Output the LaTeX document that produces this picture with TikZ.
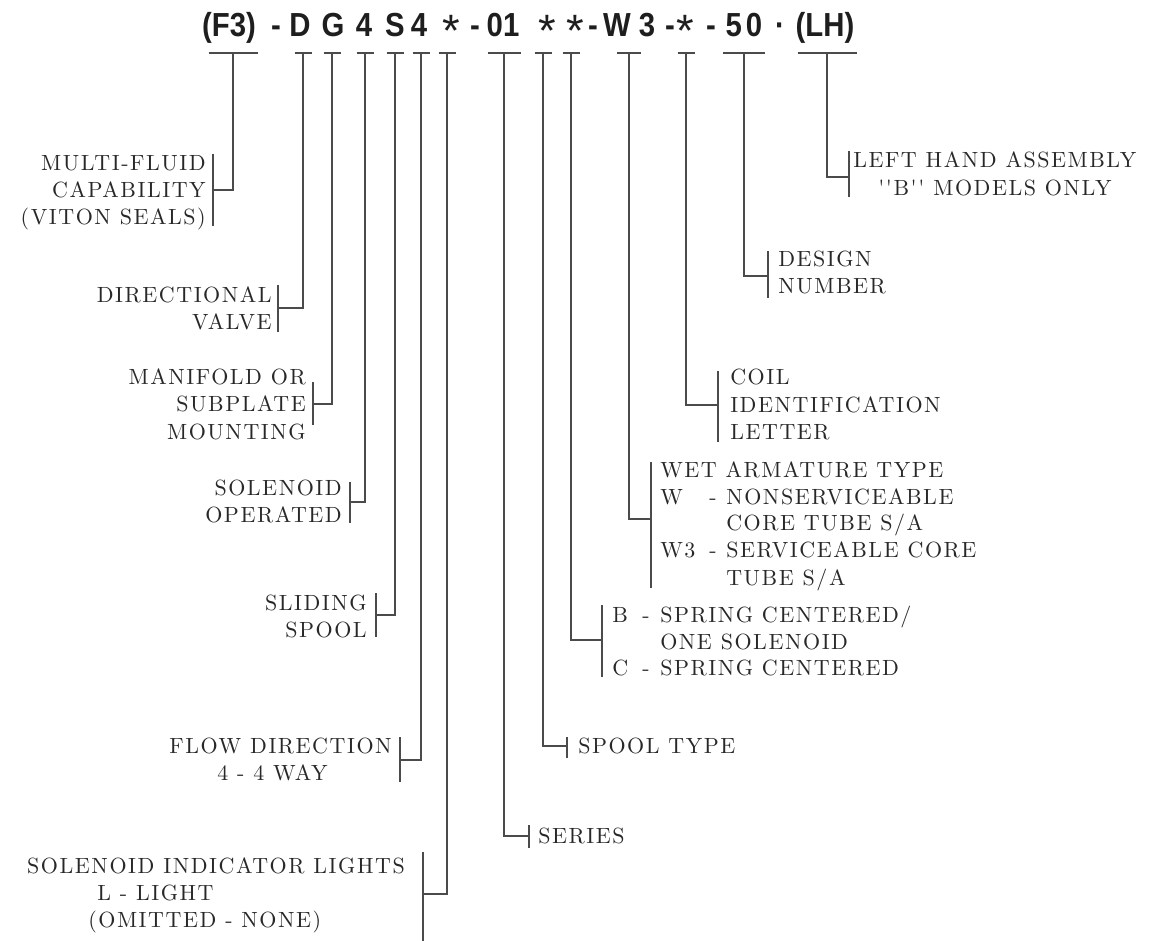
\documentclass[tikz,border=0pt]{standalone}
\usepackage{fontspec}
\newfontfamily\titlefont{Liberation Sans}[FakeStretch=0.88]
\newfontfamily\astfont{Liberation Sans}
\newfontfamily\lblfont{lmroman10-regular.otf}[LetterSpace=7]
\definecolor{ink}{RGB}{40,40,40}
\definecolor{titleink}{RGB}{30,30,30}
\definecolor{wirec}{RGB}{75,75,75}
\tikzset{
  lbl/.style={inner sep=0pt, text=ink, font=\lblfont\fontsize{16.5}{20}\selectfont},
  lw/.style={lbl, anchor=base west},
  le/.style={lbl, anchor=base east},
  code/.style={inner sep=0pt, text=titleink, anchor=base, font=\titlefont\bfseries\fontsize{25}{30}\selectfont},
  ast/.style={inner sep=0pt, text=titleink, anchor=base, font=\astfont\fontsize{34}{40}\selectfont},
  wire/.style={draw=wirec, line width=1.1pt},
  tbar/.style={draw=wirec, line width=1.4pt},
}
\begin{document}
\begin{tikzpicture}[x=0.75pt,y=-0.75pt]
\path[use as bounding box] (0,0) rectangle (1153,941);
% ---- title ----
\node[code] (cF3) at (229,37) {(F3)};
\node[code] (m1) at (276,37) {-};
\node[code] (cD) at (300,37) {D};
\node[code] (cG) at (333,37) {G};
\node[code] (c4) at (364,37) {4};
\node[code] (cS) at (395,37) {S};
\node[code] (c4b) at (419,37) {4};
\node[ast] (a1s) at (451,47) {*};
\node[code] (m2) at (475,37) {-};
\node[code] (c01) at (503,37) {01};
\node[ast] (a2s) at (547,47) {*};
\node[ast] (a3s) at (575,47) {*};
\node[code] (m3) at (593,37) {-};
\node[code] (cW) at (617,37) {W};
\node[code] (c3) at (647,37) {3};
\node[code] (m4) at (670,37) {-};
\node[ast] (a4s) at (685,47) {*};
\node[code] (m5) at (711,37) {-};
\node[code] (c50) at (744,37) {5\hspace{3pt}0};
\node[code] (dot) at (780,37) {·};
\node[code] (cLH) at (825,37) {(LH)};
% ---- ticks, connectors, brackets ----
\foreach \n/\x/\w/\bx/\ya/\yb/\hy in {
  F/233/49/213/154/226/190,
  D/303/17/278/285/332/308,
  G/332/17/313/382/425/404,
  O/365/17/350/482/523/502,
  S/395/17/376/593/637/615,
  W/421/17/400/737/782/760,
  L/447/17/423/852/941/894,
  R/504/33/529/825/848/836,
  P/543/17/567/737/758/746,
  C/571/17/602/605/677/640,
  A/629/24/651/462/588/519,
  I/686/17/718/371/442/405,
  N/744/42/768/251/298/276,
  H/827/59/849/151/197/177}{
  \coordinate (t\n) at (\x,53);
  \coordinate (h\n) at (\bx,\hy);
  \coordinate (u\n) at (\bx,\ya);
  \coordinate (l\n) at (\bx,\yb);
  \draw[tbar] (\x-\w/2,53) -- (\x+\w/2,53);
  \draw[wire] (t\n) |- (h\n);
  \draw[wire] (u\n) -- (l\n);
}
% ---- left labels ----
\node[le] (f1) at (206,170.5) {MULTI-FLUID};
\node[le] (f2) at (206,197.5) {CAPABILITY};
\node[le] (f3) at (206,224.5) {(VITON SEALS)};
\node[le] (d1) at (272,302.5) {DIRECTIONAL};
\node[le] (d2) at (272,329.5) {VALVE};
\node[le] (g1) at (306,384.5) {MANIFOLD OR};
\node[le] (g2) at (306,411.5) {SUBPLATE};
\node[le] (g3) at (306,439.5) {MOUNTING};
\node[le] (o1) at (342,495.5) {SOLENOID};
\node[le] (o2) at (342,522.5) {OPERATED};
\node[le] (s1) at (367,610.5) {SLIDING};
\node[le] (s2) at (367,637.5) {SPOOL};
\node[le] (w1) at (392,753) {FLOW DIRECTION};
\node[lw] (w2) at (217,780) {4 - 4 WAY};
\node[le] (l1) at (405,873) {SOLENOID INDICATOR LIGHTS};
\node[lw] (l2) at (97,900) {L - LIGHT};
\node[lw] (l3) at (88,927) {(OMITTED - NONE)};
% ---- right labels ----
\node[lw] (r1) at (538,843.5) {SERIES};
\node[lw] (p1) at (578,753.5) {SPOOL TYPE};
\node[lw] (b1a) at (612,622.5) {B};
\node[lw] (b1b) at (642,622.5) {-};
\node[lw] (b1c) at (660,622.5) {SPRING CENTERED/};
\node[lw] (b2) at (660,649.5) {ONE SOLENOID};
\node[lw] (b3a) at (612,675.5) {C};
\node[lw] (b3b) at (642,675.5) {-};
\node[lw] (b3c) at (660,675.5) {SPRING CENTERED};
\node[lw] (x1) at (660,477.5) {WET ARMATURE TYPE};
\node[lw] (x2a) at (660,504.5) {W};
\node[lw] (x2b) at (709,504.5) {-};
\node[lw] (x2c) at (726,504.5) {NONSERVICEABLE};
\node[lw] (x3) at (726,530.5) {CORE TUBE S/A};
\node[lw] (x4a) at (660,557.5) {W3};
\node[lw] (x4b) at (709,557.5) {-};
\node[lw] (x4c) at (726,557.5) {SERVICEABLE CORE};
\node[lw] (x5) at (726,585.5) {TUBE S/A};
\node[lw] (i1) at (730,384.5) {COIL};
\node[lw] (i2) at (730,412.5) {IDENTIFICATION};
\node[lw] (i3) at (730,439.5) {LETTER};
\node[lw] (n1) at (778,266.5) {DESIGN};
\node[lw] (n2) at (778,293.5) {NUMBER};
\node[lw] (h1) at (853,167.5) {LEFT HAND ASSEMBLY};
\node[lw] (h2) at (878,195.5) {''B'' MODELS ONLY};
\end{tikzpicture}
\end{document}
